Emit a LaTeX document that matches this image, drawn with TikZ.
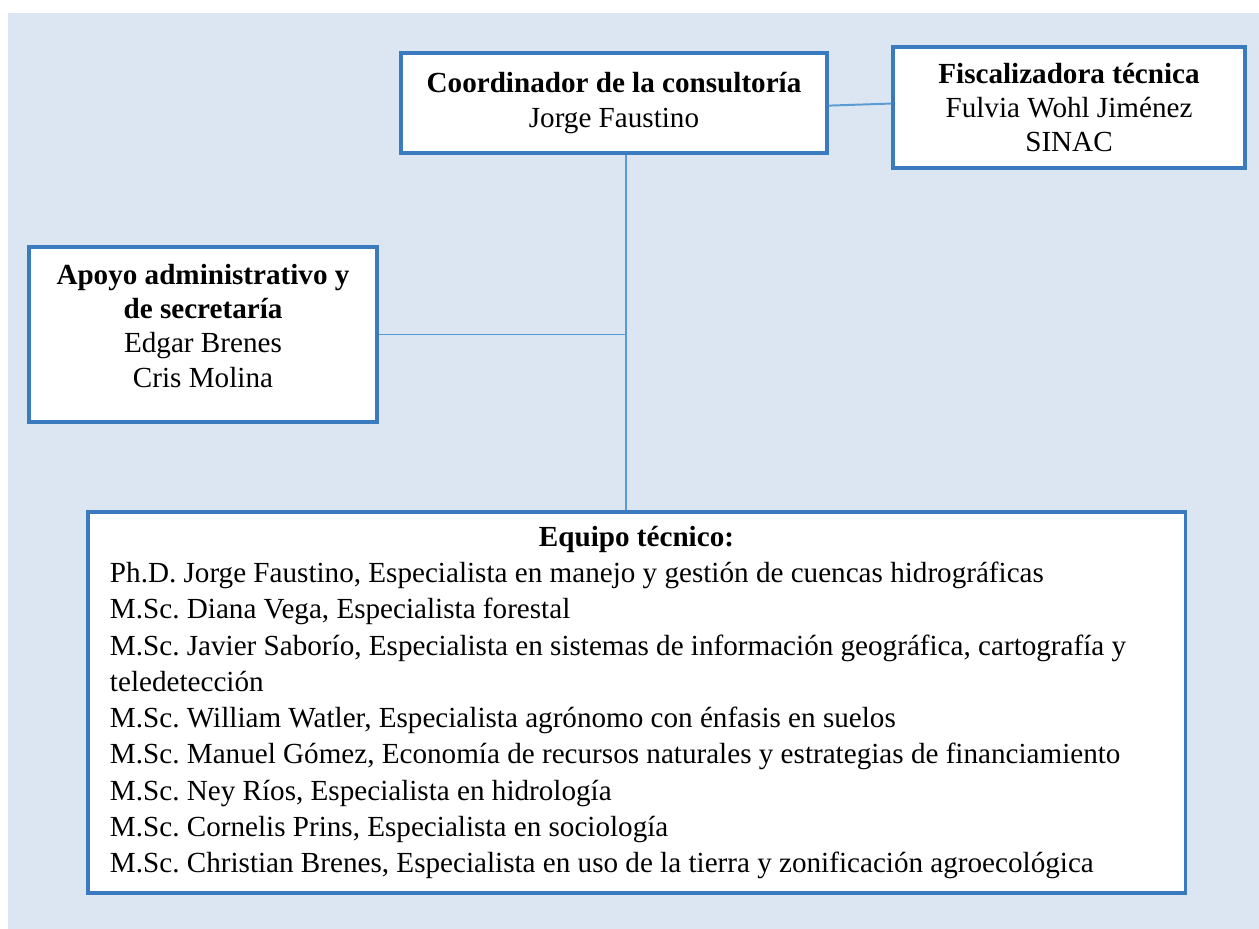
\documentclass[tikz,border=0pt]{standalone}
\usepackage{fontspec}
\setmainfont{Liberation Serif}
\usetikzlibrary{positioning}

\definecolor{bgblue}{HTML}{DCE6F2}
\definecolor{edgeblue}{HTML}{3A7BC0}
\definecolor{lineblue}{HTML}{5B9BD5}

\begin{document}
\frenchspacing
\begin{tikzpicture}[
    x=0.381pt, y=-0.381pt,
    box/.style={rectangle, draw=edgeblue, line width=1.2pt, fill=white, align=center,
                font=\fontsize{11.1pt}{13.1pt}\selectfont, inner sep=0pt},
    link/.style={draw=lineblue, line width=0.75pt}
]

% Background
\useasboundingbox (0,0) rectangle (1259,929);
\fill[bgblue] (8,13) rectangle (1259,929);

% Boxes
\node[box, minimum width=162.3pt, minimum height=38.1pt] (coord) at (614,103)
    {\textbf{Coordinador de la consultoría}\\Jorge Faustino};
\node[box, minimum width=134.1pt, minimum height=46.1pt] (fisc) at (1069,107.5)
    {\textbf{Fiscalizadora técnica}\\Fulvia Wohl Jiménez\\SINAC};
\node[box, minimum width=132.6pt, minimum height=66.7pt] (apoyo) at (203,334.5)
    {\textbf{Apoyo administrativo y}\\\textbf{de secretaría}\\Edgar Brenes\\Cris Molina\\[-6.3pt]};
\node[box, minimum width=418pt, minimum height=145.2pt, align=left,
      font=\fontsize{11.1pt}{13.8pt}\selectfont] (team) at (636.5,702.5)
    {\makebox[401.2pt][c]{\textbf{Equipo técnico:}}\\
     Ph.D. Jorge Faustino, Especialista en manejo y gestión de cuencas hidrográficas\\
     M.Sc. Diana Vega, Especialista forestal\\
     M.Sc. Javier Saborío, Especialista en sistemas de información geográfica, cartografía y\\
     teledetección\\
     M.Sc. William Watler, Especialista agrónomo con énfasis en suelos\\
     M.Sc. Manuel Gómez, Economía de recursos naturales y estrategias de financiamiento\\
     M.Sc. Ney Ríos, Especialista en hidrología\\
     M.Sc. Cornelis Prins, Especialista en sociología\\
     M.Sc. Christian Brenes, Especialista en uso de la tierra y zonificación agroecológica};

% Connectors
\coordinate (spine) at (626,0);
\draw[link] ([yshift=-1pt]coord.east) -- ([yshift=1.5pt]fisc.west);
\draw[link] (coord.south -| spine) -- (team.north -| spine);
\draw[link] (apoyo.east) -- (apoyo.east -| spine);

\end{tikzpicture}
\end{document}
